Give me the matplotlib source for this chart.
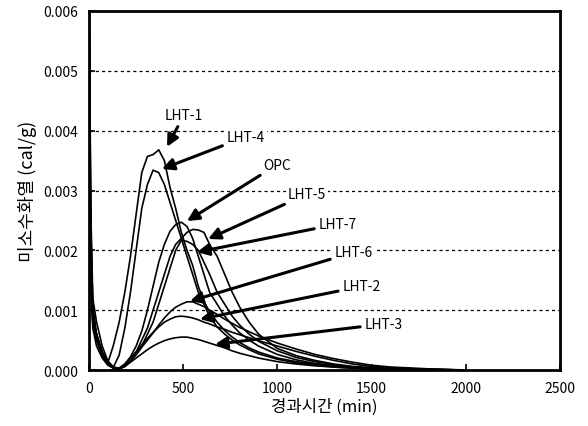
import numpy as np
import matplotlib
matplotlib.use("Agg")
import matplotlib.pyplot as plt

plt.rcParams['font.family'] = ['Noto Sans CJK KR', 'DejaVu Sans']

# elapsed time (min)
t = [0, 5, 10, 20, 40, 70, 100, 130, 160, 190, 220, 250, 280, 310, 340, 370,
     400, 430, 460, 490, 520, 550, 580, 610, 640, 680, 720, 760, 800, 850, 900,
     1000, 1100, 1200, 1300, 1400, 1500, 1600, 1800, 2000]

# heat rate (cal/g)
lht1 = [0.0062, 0.0042, 0.0024, 0.0010, 0.00055, 0.00022, 0.00012, 0.00042, 0.0008, 0.0013,
        0.0019, 0.0026, 0.0033, 0.00357, 0.0036, 0.00368, 0.0035, 0.00305, 0.0027, 0.0023,
        0.0020, 0.00175, 0.0014, 0.00115, 0.00097, 0.0008, 0.00066, 0.00055, 0.00046, 0.00037,
        0.0003, 0.0002, 0.00014, 0.0001, 0.00007, 0.00005, 0.00003, 0.00002, 0.00001, 0.0]
lht4 = [0.0058, 0.0038, 0.0022, 0.0011, 0.0006, 0.0003, 0.00012, 0.00005, 0.00025, 0.0007,
        0.0013, 0.0020, 0.0027, 0.0031, 0.00334, 0.0033, 0.0031, 0.0028, 0.0025, 0.0022,
        0.0019, 0.0016, 0.0013, 0.0011, 0.0009, 0.00072, 0.0006, 0.0005, 0.00042, 0.00034,
        0.00027, 0.00018, 0.00012, 0.00008, 0.00005, 0.00003, 0.00002, 0.00001, 0.0, 0.0]
opc = [0.0065, 0.0045, 0.0026, 0.0012, 0.0008, 0.0004, 0.00015, 0.00005, 0.00003, 0.0001,
       0.00022, 0.0004, 0.00065, 0.001, 0.0014, 0.0018, 0.0021, 0.00232, 0.00243, 0.00247,
       0.0024, 0.0022, 0.0019, 0.0016, 0.0013, 0.0011, 0.0009, 0.00075, 0.00062, 0.0005,
       0.0004, 0.00026, 0.00017, 0.00011, 0.00007, 0.00004, 0.00002, 0.00001, 0.0, 0.0]
lht5 = [0.0055, 0.0035, 0.0018, 0.0009, 0.0005, 0.00025, 0.0001, 0.00003, 0.00002, 0.00006,
        0.00015, 0.0003, 0.0005, 0.0007, 0.001, 0.0013, 0.0016, 0.0019, 0.0021, 0.0022,
        0.0023, 0.00235, 0.00234, 0.0023, 0.0021, 0.0019, 0.0016, 0.0013, 0.00105, 0.0008,
        0.0006, 0.00036, 0.00024, 0.00016, 0.0001, 0.00006, 0.00004, 0.00002, 0.00001, 0.0]
lht7 = [0.0052, 0.0033, 0.0018, 0.0009, 0.0006, 0.0003, 0.00012, 0.00004, 0.00002, 0.00008,
        0.0002, 0.0003, 0.0004, 0.0006, 0.0008, 0.0011, 0.0014, 0.0017, 0.002, 0.00217,
        0.00215, 0.0021, 0.002, 0.0018, 0.0016, 0.0013, 0.0011, 0.0009, 0.00075, 0.0006,
        0.00048, 0.00032, 0.00021, 0.00014, 0.00009, 0.00005, 0.00003, 0.00002, 0.00001, 0.0]
lht6 = [0.0050, 0.0030, 0.0016, 0.0008, 0.0005, 0.00025, 0.0001, 0.00003, 0.00002, 0.00006,
        0.00015, 0.00025, 0.00038, 0.0005, 0.00062, 0.00075, 0.00087, 0.00097, 0.00105, 0.0011,
        0.00114, 0.00114, 0.0011, 0.00106, 0.001, 0.00093, 0.00085, 0.00078, 0.00071, 0.00064,
        0.00057, 0.00045, 0.00035, 0.00026, 0.00019, 0.00013, 0.00008, 0.00005, 0.00002, 0.0]
lht2 = [0.0048, 0.0028, 0.0015, 0.0008, 0.0006, 0.0003, 0.00012, 0.00004, 0.00003, 0.0001,
        0.0002, 0.0003, 0.00042, 0.00053, 0.00063, 0.00072, 0.0008, 0.00085, 0.00089, 0.0009,
        0.00089, 0.00087, 0.00084, 0.0008, 0.00077, 0.00072, 0.00068, 0.00063, 0.00059, 0.00054,
        0.00049, 0.0004, 0.00031, 0.00023, 0.00016, 0.0001, 0.00006, 0.00004, 0.00001, 0.0]
lht3 = [0.0045, 0.0026, 0.0014, 0.0007, 0.0004, 0.0002, 0.00008, 0.00003, 0.00002, 0.00006,
        0.00013, 0.0002, 0.00027, 0.00034, 0.0004, 0.00045, 0.00049, 0.00052, 0.00054, 0.00055,
        0.00055, 0.00053, 0.00051, 0.00048, 0.00045, 0.00041, 0.00037, 0.00032, 0.00028, 0.00024,
        0.0002, 0.00014, 0.0001, 0.00007, 0.00005, 0.00003, 0.00002, 0.00001, 0.0, 0.0]

series = [lht1, lht4, opc, lht5, lht7, lht6, lht2, lht3]
names = ['LHT-1', 'LHT-4', 'OPC', 'LHT-5', 'LHT-7', 'LHT-6', 'LHT-2', 'LHT-3']
# label centre and arrow tip (data coords)
label_xy = [(504, 0.00426), (834, 0.0039), (998, 0.00343), (1157, 0.00294),
            (1322, 0.00244), (1407, 0.00197), (1449, 0.0014), (1566, 0.00077)]
tip_xy = [(414, 0.00373), (387, 0.00336), (520, 0.00249), (632, 0.00219),
          (573, 0.00197), (536, 0.00115), (589, 0.00085), (669, 0.00043)]

fig = plt.figure(figsize=(5.88, 4.27), dpi=100)
ax = fig.add_axes([0.1514, 0.1311, 0.801, 0.8408])

for y in series:
    ax.plot(t, y, color='black', lw=1.2, zorder=3)

for yv in [0.001, 0.002, 0.003, 0.004, 0.005]:
    ax.axhline(yv, color='black', lw=0.9, ls=(0, (2.5, 2.5)), zorder=1)

for name, (lx, ly), (tx, ty) in zip(names, label_xy, tip_xy):
    ax.annotate(name, xy=(tx, ty), xytext=(lx, ly), ha='center', va='center',
                fontsize=10, zorder=5,
                bbox=dict(facecolor='white', edgecolor='none', pad=1.5),
                arrowprops=dict(arrowstyle='-|>,head_length=0.7,head_width=0.35',
                                color='black', lw=2.2, shrinkA=2, shrinkB=0))

ax.set_xlim(0, 2500)
ax.set_ylim(0, 0.006)
ax.set_xticks([0, 500, 1000, 1500, 2000, 2500])
ax.set_yticks([0, 0.001, 0.002, 0.003, 0.004, 0.005, 0.006])
ax.set_yticklabels(['0.000', '0.001', '0.002', '0.003', '0.004', '0.005', '0.006'])
ax.tick_params(direction='in', length=4, width=1.2, labelsize=10, pad=8)
for s in ax.spines.values():
    s.set_linewidth(2)

ax.set_xlabel('경과시간 (min)', fontsize=12, labelpad=2)
ax.set_ylabel('미소수화열 (cal/g)', fontsize=13, labelpad=4)

fig.savefig('out.png', dpi=100)
